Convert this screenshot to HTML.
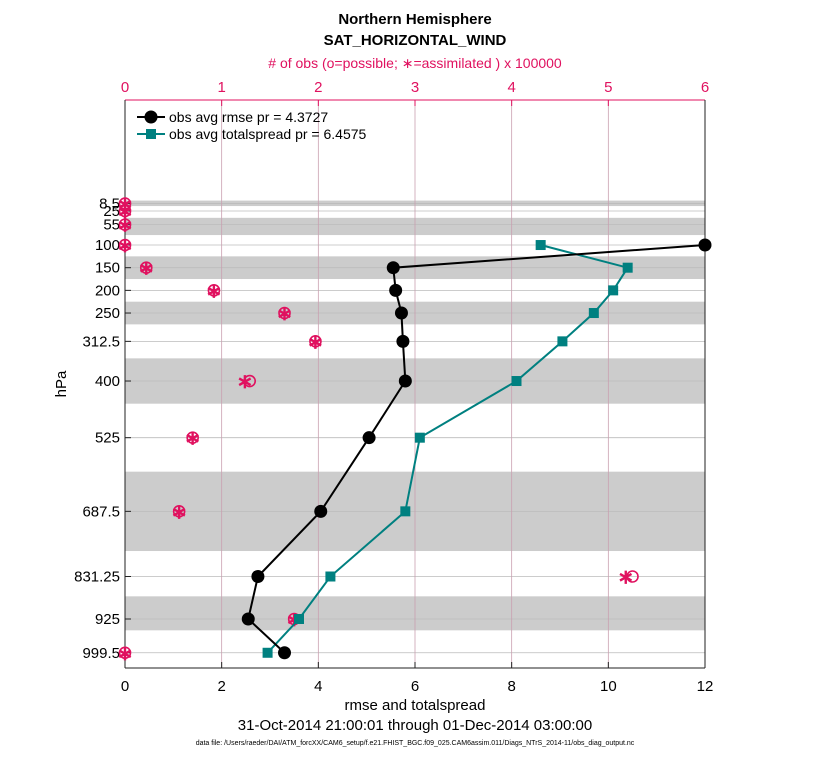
<!DOCTYPE html>
<html><head><meta charset="utf-8"><style>
body{margin:0;background:#fff;font-family:"Liberation Sans",sans-serif}
svg text{font-family:"Liberation Sans",sans-serif}
</style></head><body>
<svg id="c" width="830" height="760" xmlns="http://www.w3.org/2000/svg">
<text x="415" y="24" text-anchor="middle" font-size="15" font-weight="bold">Northern Hemisphere</text>
<text x="415" y="45" text-anchor="middle" font-size="15" font-weight="bold">SAT_HORIZONTAL_WIND</text>
<text x="415" y="68" text-anchor="middle" font-size="14" fill="#e0115f"># of obs (o=possible; ∗=assimilated ) x 100000</text>
<text x="415" y="710" text-anchor="middle" font-size="15">rmse and totalspread</text>
<text x="415" y="730" text-anchor="middle" font-size="15">31-Oct-2014 21:00:01 through 01-Dec-2014 03:00:00</text>
<text x="415" y="745" text-anchor="middle" font-size="7">data file: /Users/raeder/DAI/ATM_forcXX/CAM6_setup/f.e21.FHIST_BGC.f09_025.CAM6assim.011/Diags_NTrS_2014-11/obs_diag_output.nc</text>
<text transform="translate(66,384) rotate(-90)" text-anchor="middle" font-size="15">hPa</text>
<g id="plot"></g>
</svg>
<script>
const levels=[8.5,25,55,100,150,200,250,312.5,400,525,687.5,831.25,925,999.5];
const levelLabels=["8.5","25","55","100","150","200","250","312.5","400","525","687.5","831.25","925","999.5"];
const rmseLevels=[100,150,200,250,312.5,400,525,687.5,831.25,925,999.5];
const rmse=[12.0,5.55,5.6,5.72,5.75,5.8,5.05,4.05,2.75,2.55,3.3];
const spread=[8.6,10.4,10.1,9.7,9.05,8.1,6.1,5.8,4.25,3.6,2.95];
const obsPossible=[0,0,0,0,0.22,0.92,1.65,1.97,1.29,0.7,0.56,5.25,1.75,0];
const obsAssim=[0,0,0,0,0.22,0.92,1.65,1.97,1.24,0.7,0.56,5.18,1.75,0];
const bottomTicks=[0,2,4,6,8,10,12];
const topTicks=[0,1,2,3,4,5,6];
const bands=[[2,14],[40,78],[125,175],[225,275],[350,450],[600,775],[875,950]];

const L=125,R=705,T=100,B=668;
const x=v=>L+(v/12)*(R-L);
const xt=v=>L+(v/6)*(R-L);
const y=p=>199.7+0.4533*p;
const NS="http://www.w3.org/2000/svg";
const g=document.getElementById('plot');
function el(t,a,p){const e=document.createElementNS(NS,t);for(const k in a)e.setAttribute(k,a[k]);(p||g).appendChild(e);return e;}
bands.forEach(b=>{const r=el('rect',{x:L,y:y(b[0]),width:R-L,height:y(b[1])-y(b[0]),fill:'#cccccc'});

});
levels.forEach((p,i)=>{const l=el('line',{x1:L,x2:R,y1:y(p),y2:y(p),stroke:'#bbbbbb','stroke-width':0.8});


el('line',{x1:L,x2:L+6,y1:y(p),y2:y(p),stroke:'#222'});
const t=el('text',{x:L-5,y:y(p)+5,'text-anchor':'end','font-size':15});t.textContent=levelLabels[i];

});
topTicks.forEach(v=>{if(v>0&&v<6){const l=el('line',{x1:xt(v),x2:xt(v),y1:T,y2:B,stroke:'#c9a0b0','stroke-width':0.8});

}
const t=el('text',{x:xt(v),y:92,'text-anchor':'middle','font-size':15,fill:'#e0115f'});t.textContent=v;


el('line',{x1:xt(v),x2:xt(v),y1:T,y2:T+6,stroke:'#e0115f'});});
bottomTicks.forEach(v=>{const t=el('text',{x:x(v),y:691,'text-anchor':'middle','font-size':15});t.textContent=v;


el('line',{x1:x(v),x2:x(v),y1:B,y2:B-6,stroke:'#222'});});
el('line',{x1:L,x2:R,y1:T,y2:T,stroke:'#e0115f'});
el('line',{x1:L,x2:R,y1:B,y2:B,stroke:'#222'});
el('line',{x1:L,x2:L,y1:T,y2:B,stroke:'#222'});
el('line',{x1:R,x2:R,y1:T,y2:B,stroke:'#222'});
levels.forEach((p,i)=>{const c=el('circle',{cx:xt(obsPossible[i]),cy:y(p),r:5.5,fill:'none',stroke:'#e0115f','stroke-width':1.6});


const s=el('text',{x:xt(obsAssim[i]),y:y(p)+7,'text-anchor':'middle','font-size':20,fill:'#e0115f','font-weight':'bold'});s.textContent='∗';

});
function series(vals,col,shape,name){
const pts=vals.map((v,i)=>x(v)+','+y(rmseLevels[i])).join(' ');
const pl=el('polyline',{points:pts,fill:'none',stroke:col,'stroke-width':2});


vals.forEach((v,i)=>{let m;if(shape==='c')m=el('circle',{cx:x(v),cy:y(rmseLevels[i]),r:6.5,fill:col});
else m=el('rect',{x:x(v)-5,y:y(rmseLevels[i])-5,width:10,height:10,fill:col});

});}
series(spread,'#008080','s','totalspread');
series(rmse,'#000000','c','rmse');
const lg=el('g',{});


el('line',{x1:137,x2:165,y1:117,y2:117,stroke:'#000','stroke-width':2},lg);
el('circle',{cx:151,cy:117,r:6.5,fill:'#000'},lg);
let t=el('text',{x:169,y:122,'font-size':14},lg);t.textContent='obs avg rmse pr = 4.3727';


el('line',{x1:137,x2:165,y1:134,y2:134,stroke:'#008080','stroke-width':2},lg);
el('rect',{x:146,y:129,width:10,height:10,fill:'#008080'},lg);
t=el('text',{x:169,y:139,'font-size':14},lg);t.textContent='obs avg totalspread pr = 6.4575';


</script>
</body></html>
